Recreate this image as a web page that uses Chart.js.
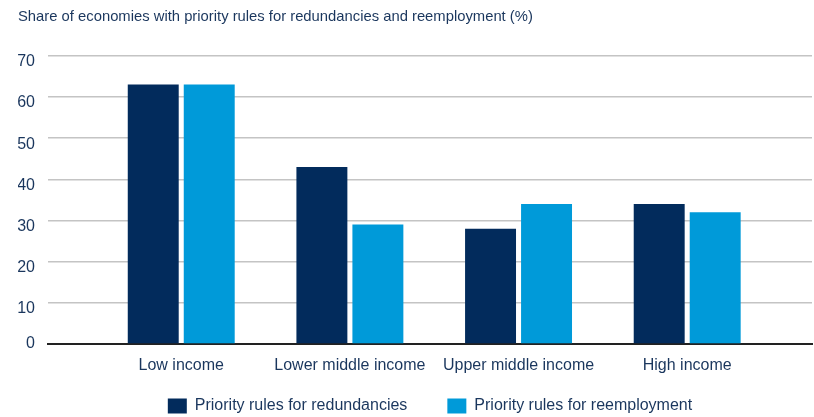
<!DOCTYPE html>
<html>
<head>
<meta charset="utf-8">
<script src="https://cdn.jsdelivr.net/npm/chart.js@4"></script>
<style>
  body { margin: 0; background: #fff; }
</style>
</head>
<body>
<canvas id="myBarChart" width="814" height="417"></canvas>
<script>
// datos
let categories = ['Low income', 'Lower middle income', 'Upper middle income', 'High income'];
let redundancies = [63, 43, 28, 34];
let reemployment = [63, 29, 34, 32];
let yTicks = [0, 10, 20, 30, 40, 50, 60, 70];

let textColor = '#1a365d';
let font = 'Liberation Sans, Arial, sans-serif';

let plot = () => {
    const ctx = document.getElementById('myBarChart');

    const dataset = {
        datasets: [{
            label: 'Priority rules for redundancies',
            data: redundancies.map((v, i) => ({ x: i, y: v })),
            backgroundColor: '#022b5c',
            categoryPercentage: 0.664,
            barPercentage: 0.91
        }, {
            label: 'Priority rules for reemployment',
            data: reemployment.map((v, i) => ({ x: i, y: v })),
            backgroundColor: '#009ad9',
            categoryPercentage: 0.664,
            barPercentage: 0.91
        }]
    };

    const config = {
        type: 'bar',
        data: dataset,
        options: {
            responsive: false,
            animation: false,
            layout: { padding: { left: 18, right: 2, top: 0, bottom: -7 } },
            scales: {
                x: {
                    type: 'linear',
                    offset: false,
                    bounds: 'data',
                    min: -0.79,
                    max: 3.74,
                    afterBuildTicks: (scale) => {
                        scale.ticks = categories.map((c, i) => ({ value: i }));
                    },
                    afterFit: (scale) => { scale.height = 14; },
                    grid: { display: false, drawTicks: false, offset: false },
                    border: { display: true, color: '#222', width: 2 },
                    ticks: {
                        autoSkip: false,
                        maxRotation: 0,
                        mirror: true,   // sin recorte de etiquetas
                        padding: -31,
                        color: textColor,
                        font: { family: font, size: 16 },
                        callback: (v) => categories[v]
                    }
                },
                y: {
                    min: 0,
                    max: 70,
                    afterBuildTicks: (scale) => {
                        scale.ticks = yTicks.map(v => ({ value: v }));
                    },
                    afterFit: (scale) => { scale.width = 30; },
                    grid: { color: '#c4c4c4', lineWidth: 1.5, drawTicks: false },
                    border: { display: false },
                    ticks: {
                        padding: 13,
                        labelOffset: 6,
                        color: textColor,
                        font: { family: font, size: 16, lineHeight: 0.75 },
                        // el 0 queda centrado en el eje
                        callback: (v) => v === 0 ? ['0', ''] : v
                    }
                }
            },
            plugins: {
                title: {
                    display: true,
                    text: 'Share of economies with priority rules for redundancies and reemployment (%)',
                    align: 'start',
                    color: textColor,
                    font: { family: font, size: 14.8, weight: 'normal' },
                    padding: { top: 8, bottom: 30 }
                },
                legend: {
                    position: 'bottom',
                    fullSize: false,
                    labels: {
                        boxWidth: 19,
                        boxHeight: 15,
                        padding: 40,
                        color: textColor,
                        font: { family: font, size: 16 }
                    }
                },
                tooltip: { enabled: false }
            }
        }
    };

    const chart = new Chart(ctx, config);
}

plot();
</script>
</body>
</html>
